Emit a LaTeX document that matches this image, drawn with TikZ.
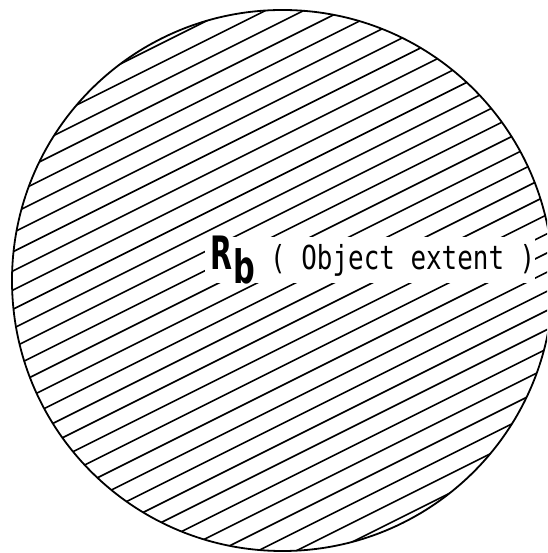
\documentclass[tikz,border=0pt]{standalone}
\usepackage{graphicx}
\usepackage{fontspec}
\newfontfamily\extentfont{DejaVu Sans Mono}[WordSpace={1,0,0}]
\newfontfamily\regionfont{DejaVu Sans}

\begin{document}
\begin{tikzpicture}[
  x=1pt, y=1pt,
  outline/.style={draw, line width=1.8pt},
  hatchline/.style={line width=1.6pt},
  region/.style={font={\regionfont\bfseries\fontsize{46}{46}\selectfont}, inner sep=0pt, anchor=base west},
  extent/.style={font={\extentfont\fontsize{33}{33}\selectfont}, inner sep=0pt, anchor=base west},
]
  \useasboundingbox (0,0) rectangle (547,553);
  \coordinate (c) at (282.5,272.5);
  \def\rad{270.5}

  % hatched disc, cut by the page on the right
  \begin{scope}
    \clip (0,0) rectangle (547,553);
    \begin{scope}
      \clip (c) circle (\rad);
      \foreach \k in {0,...,31}
        \draw[hatchline] (0,-165.1+19.16*\k) -- (580,-165.1+19.16*\k+290);
    \end{scope}
    % gap in the hatching behind the label
    \fill[white] (205,270) rectangle (535,316);
    \draw[outline] (c) circle (\rad);
  \end{scope}

  % label
  \node[region] (R) at (210,283) {\scalebox{0.62}[1]{R}};
  \node[region] (b) at (233,269) {\scalebox{0.66}[1]{b}};
  \node[extent] (objext) at (270,283) {\scalebox{0.785}[1]{( Object extent )}};
\end{tikzpicture}
\end{document}
